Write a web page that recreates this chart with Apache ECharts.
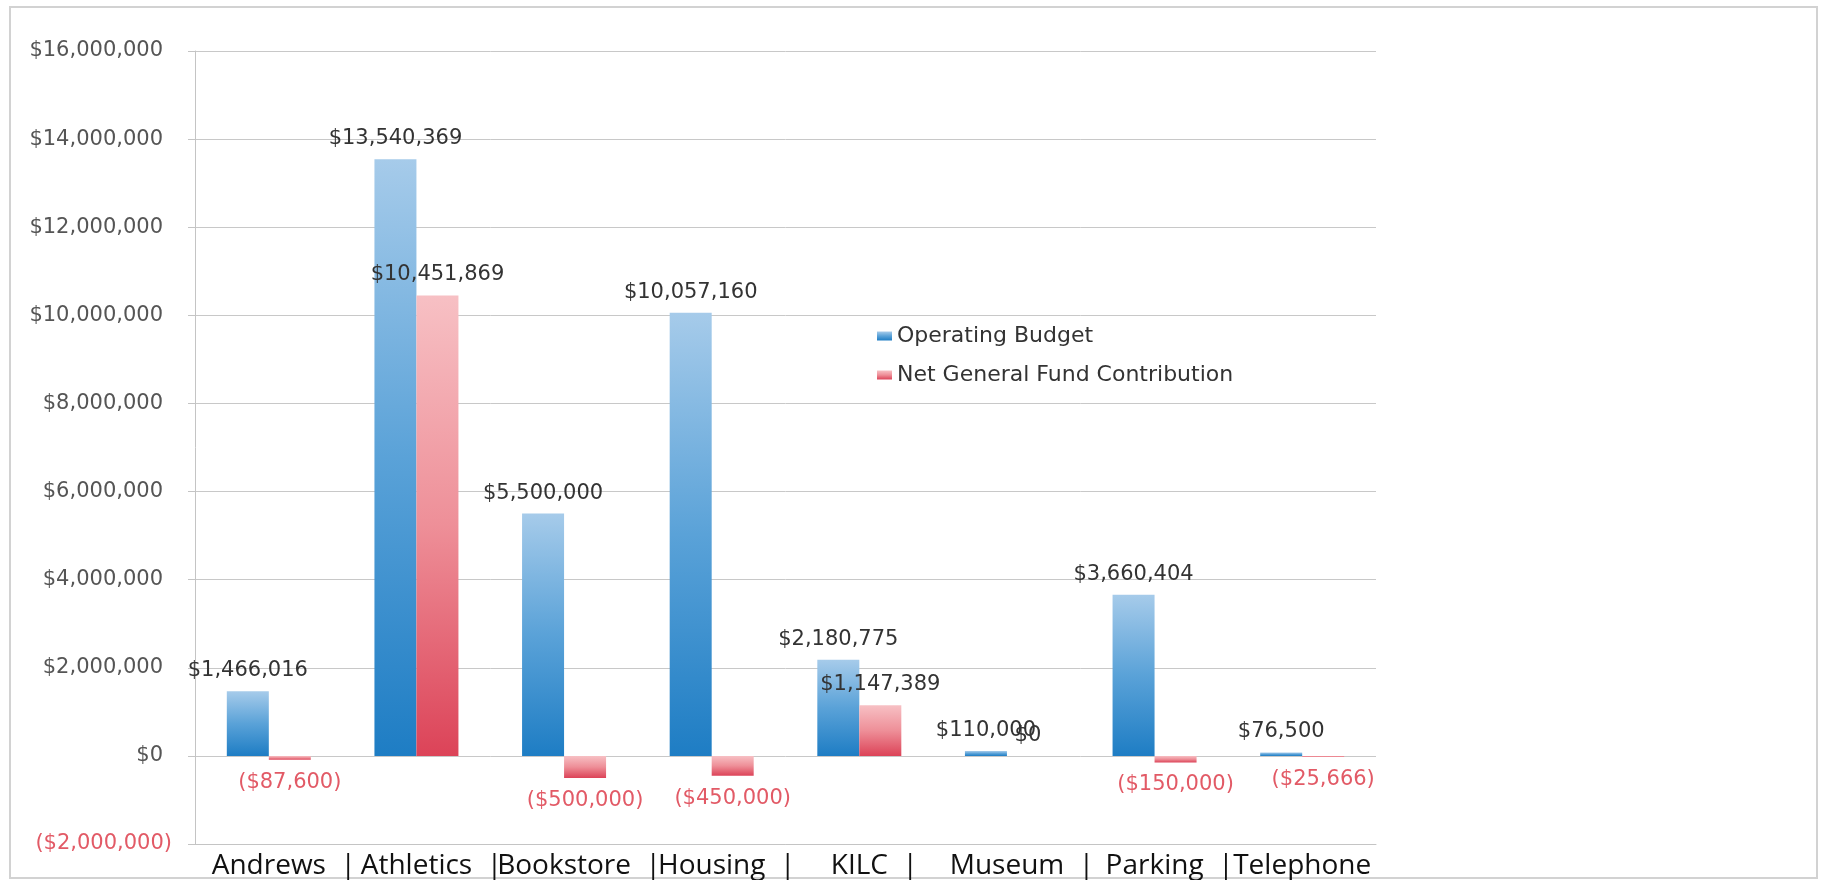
<!DOCTYPE html>
<html>
<head>
<meta charset="utf-8">
<script src="https://cdn.jsdelivr.net/npm/echarts@6/dist/echarts.min.js"></script>
<style>
  html, body { margin: 0; padding: 0; background: #ffffff; }
  #chart { width: 1823px; height: 880px; }
</style>
</head>
<body>
<div id="chart"></div>
<script>
// Departments along the category axis
const categories = ['Andrews', 'Athletics', 'Bookstore', 'Housing', 'KILC', 'Museum', 'Parking', 'Telephone'];

// Operating budget per department (USD)
const operatingBudget = [1466016, 13540369, 5500000, 10057160, 2180775, 110000, 3660404, 76500];

// Net general fund contribution per department (USD, negatives are returns)
const netGeneralFund = [-87600, 10451869, -500000, -450000, 1147389, 0, -150000, -25666];

// Value axis range and step
const yMin = -2000000;
const yMax = 16000000;
const yStep = 2000000;

const seriesNames = ['Operating Budget', 'Net General Fund Contribution'];

const RED_TEXT = '#e25a66';
const DARK_TEXT = '#333333';
const AXIS_TEXT = '#555555';

function withCommas(n) {
  return String(Math.round(Math.abs(n))).replace(/\B(?=(\d{3})+(?!\d))/g, ',');
}
function money(v) {
  return v < 0 ? '($' + withCommas(v) + ')' : '$' + withCommas(v);
}

const blueFill = new echarts.graphic.LinearGradient(0, 0, 0, 1, [
  { offset: 0, color: '#a6cbea' },
  { offset: 0.5, color: '#5aa2d8' },
  { offset: 1, color: '#1e7dc4' }
]);
const redFill = new echarts.graphic.LinearGradient(0, 0, 0, 1, [
  { offset: 0, color: '#f7c0c4' },
  { offset: 0.5, color: '#ee8f98' },
  { offset: 1, color: '#dc4358' }
]);

function barData(values) {
  return values.map(v => ({
    value: v,
    label: {
      position: v < 0 ? 'bottom' : 'top',
      distance: v < 0 ? 12 : 10,
      color: v < 0 ? RED_TEXT : DARK_TEXT
    }
  }));
}

const labelFont = { fontFamily: 'DejaVu Sans', fontSize: 21 };

const chart = echarts.init(document.getElementById('chart'), null, { renderer: 'canvas' });

// Category names are separated by a bar glyph; a blank lead of the same width keeps each name centred
const lastIndex = categories.length - 1;

const option = {
  backgroundColor: '#ffffff',
  animation: false,
  legend: {
    orient: 'vertical',
    left: 872,
    top: 320,
    itemWidth: 15,
    itemHeight: 9,
    itemGap: 17,
    icon: 'rect',
    textStyle: { fontFamily: 'DejaVu Sans', fontSize: 22, color: '#333333' },
    data: seriesNames
  },
  grid: { left: 195, right: 447, top: 51, bottom: 31, containLabel: false },
  xAxis: {
    type: 'category',
    data: categories,
    axisLine: { onZero: false, lineStyle: { color: '#c4c4c4', width: 1 } },
    axisTick: { show: false },
    axisLabel: {
      interval: 0,
      margin: 8,
      fontFamily: 'Open Sans',
      fontSize: 28,
      color: '#111111',
      formatter: (value, idx) => (idx < lastIndex ? '{g|}{n|' + value + '}{p|  |}' : '{n|' + value + '}'),
      rich: {
        g: { width: 30 },
        n: { fontFamily: 'Open Sans', fontSize: 28, color: '#111111' },
        p: { fontFamily: 'Open Sans', fontSize: 28, color: '#111111' }
      }
    }
  },
  yAxis: {
    type: 'value',
    min: yMin,
    max: yMax,
    interval: yStep,
    axisLine: { show: true, lineStyle: { color: '#c4c4c4', width: 1 } },
    axisTick: { show: true, length: 7, lineStyle: { color: '#c4c4c4' } },
    splitLine: { show: true, lineStyle: { color: '#c8c8c8', width: 1 } },
    axisLabel: {
      margin: 23,
      formatter: v => (v < 0 ? '{neg|' + money(v) + '}' : '{pos|' + money(v) + '}'),
      rich: {
        pos: { fontFamily: 'DejaVu Sans', fontSize: 21, color: AXIS_TEXT, padding: [0, 9, 0, 0] },
        neg: { fontFamily: 'DejaVu Sans', fontSize: 21, color: RED_TEXT }
      }
    }
  },
  series: [
    {
      name: seriesNames[0],
      type: 'bar',
      barWidth: 42,
      barGap: '0%',
      itemStyle: { color: blueFill },
      label: {
        show: true,
        formatter: p => money(p.value),
        ...labelFont
      },
      data: barData(operatingBudget)
    },
    {
      name: seriesNames[1],
      type: 'bar',
      barWidth: 42,
      barGap: '0%',
      itemStyle: { color: redFill },
      label: {
        show: true,
        formatter: p => money(p.value),
        ...labelFont
      },
      data: barData(netGeneralFund)
    }
  ],
  graphic: [
    {
      type: 'rect',
      shape: { x: 10, y: 7, width: 1807, height: 871 },
      style: { fill: 'none', stroke: '#d2d2d2', lineWidth: 2 },
      silent: true,
      z: -1
    }
  ]
};

chart.setOption(option);
</script>
</body>
</html>
